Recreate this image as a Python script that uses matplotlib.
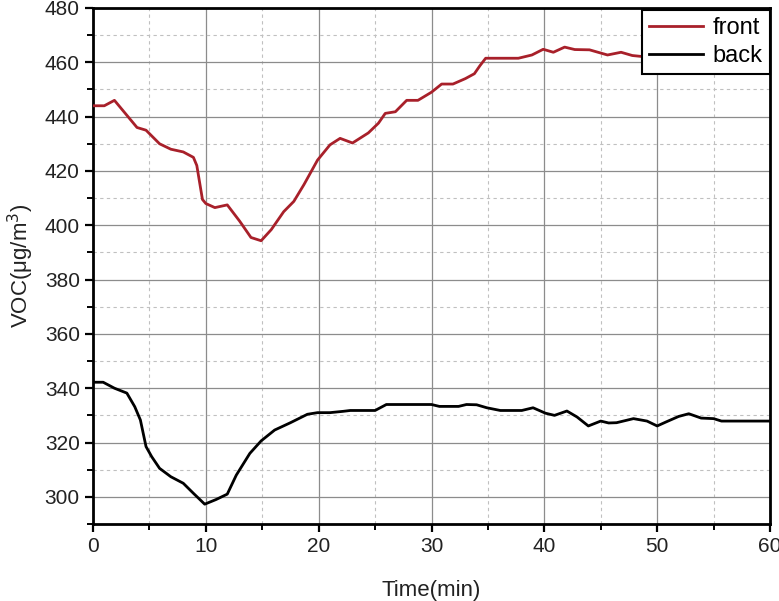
import matplotlib.pyplot as plt
from matplotlib.ticker import MultipleLocator

plt.rcParams['font.family'] = ['Liberation Sans Narrow', 'Liberation Sans', 'DejaVu Sans']

front_t = [0, 1, 1.9, 3.1, 3.9, 4.7, 5.9, 6.9, 8.0, 8.9, 9.2, 9.7, 10.0, 10.8, 11.9,
           13.0, 14.0, 14.9, 15.8, 16.9, 17.8, 18.7, 19.9, 21.0, 21.9, 23.0, 24.4,
           25.3, 25.9, 26.8, 27.8, 28.8, 30.0, 30.9, 31.9, 33.0, 33.8, 34.3, 34.8,
           37.7, 38.9, 39.9, 40.8, 41.8, 42.7, 44.0, 45.6, 46.8, 47.8, 49.0, 52.0,
           55.0, 58.0, 60.0]
front_v = [444, 444, 446, 440, 436, 435, 430, 428, 427, 425, 422, 409.5, 408, 406.5, 407.5,
           401.5, 395.5, 394.3, 398.4, 405, 408.8, 415, 424, 429.6, 432, 430.3, 434,
           437.6, 441.2, 441.8, 446, 446, 449, 452, 452, 454, 455.8, 458.8, 461.5,
           461.5, 462.7, 464.8, 463.7, 465.6, 464.7, 464.6, 462.7, 463.7, 462.5, 462, 462,
           461, 461, 461]

back_t = [0, 0.9, 1.9, 3.0, 3.7, 4.2, 4.7, 5.2, 5.9, 6.9, 8.0, 8.9, 9.9, 10.9, 11.9,
          12.7, 13.9, 14.9, 16.1, 17.5, 19.0, 19.9, 21.0, 22.2, 22.8, 25.0, 26.0,
          30.0, 30.7, 32.4, 33.1, 34.0, 34.9, 36.1, 38.0, 39.0, 40.1, 40.9, 42.0,
          42.9, 43.9, 45.0, 45.7, 46.4, 47.9, 49.1, 50.0, 50.8, 51.9, 52.8, 53.9,
          55.0, 55.7, 60.0]
back_v = [342.2, 342.2, 340, 338.2, 333.2, 328.3, 318.5, 314.8, 310.5, 307.4, 305, 301.3, 297.3, 299, 301,
          308, 316, 320.6, 324.6, 327.3, 330.4, 331, 331, 331.5, 331.8, 331.8, 334,
          334, 333.3, 333.3, 334, 333.9, 332.8, 331.8, 331.8, 332.8, 330.8, 330, 331.6,
          329.4, 326.1, 327.9, 327.2, 327.3, 328.8, 327.9, 326.1, 327.6, 329.6, 330.6, 329,
          328.8, 327.9, 327.9]

fig = plt.figure(figsize=(7.79, 6.01), dpi=100)
ax = fig.add_axes([93 / 779, 77 / 601, 677 / 779, 516 / 601])

ax.plot(front_t, front_v, color="#a8202a", linewidth=2.0, label="front", zorder=3)
ax.plot(back_t, back_v, color="black", linewidth=2.0, label="back", zorder=3)

ax.set_xlim(0, 60)
ax.set_ylim(290, 480)
ax.xaxis.set_major_locator(MultipleLocator(10))
ax.xaxis.set_minor_locator(MultipleLocator(5))
ax.yaxis.set_major_locator(MultipleLocator(20))
ax.yaxis.set_minor_locator(MultipleLocator(10))

ax.grid(which="major", color="#8c8c8c", linestyle="-", linewidth=0.9)
ax.grid(which="minor", color="#c0c0c0", linestyle=(0, (3, 3)), linewidth=0.8)
ax.set_axisbelow(True)

for s in ax.spines.values():
    s.set_linewidth(2)
ax.tick_params(which="major", direction="out", length=6, width=1.6, labelsize=15,
               labelcolor="#222222")
ax.tick_params(which="minor", direction="out", length=4, width=1.4)

ax.set_xlabel("Time(min)", fontsize=16, labelpad=17, color="#222222")
ax.set_ylabel("VOC(\u03bcg/m$^3$)", fontsize=16, labelpad=6, color="#222222")

leg = ax.legend(loc="upper right", bbox_to_anchor=(1.0, 0.996), borderaxespad=0,
                fontsize=17, fancybox=False, framealpha=1, edgecolor="black",
                handlelength=2.3, handletextpad=0.4, labelspacing=0.25, borderpad=0.3)
leg.get_frame().set_linewidth(1.5)

plt.savefig("out.png", dpi=100)
plt.close()
